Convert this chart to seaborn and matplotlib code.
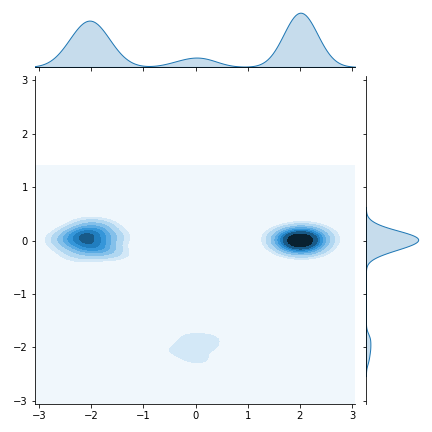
import numpy as np
import pandas as pd
import matplotlib
matplotlib.use("Agg")
import matplotlib.pyplot as plt
import seaborn as sns
from matplotlib.colors import to_rgb

# three blobs: left (-2, 0), right (2, 0), small one at (0, -2)
left_x = [-2.01, -1.80, -2.25, -1.95, -2.16, -1.75, -2.06, -2.36, -1.91, -2.10,
          -1.67, -2.21, -1.99, -2.31, -1.85, -2.03, -2.46, -1.93, -2.14, -1.78,
          -2.08, -1.56, -2.18, -1.97, -2.40, -1.87, -2.00, -2.28, -1.71, -2.12,
          -1.92, -2.53, -2.05, -1.83, -2.23, -1.52, -2.15, -1.98, -2.33, -1.88]
left_y = [0.03, -0.12, 0.18, -0.05, 0.09, -0.21, 0.14, -0.02, 0.25, -0.16,
          0.06, -0.08, 0.31, -0.27, 0.01, 0.11, -0.14, 0.22, -0.04, 0.16,
          -0.19, 0.07, -0.35, 0.12, -0.01, 0.28, -0.10, 0.05, -0.24, 0.19,
          -0.06, 0.02, 0.36, -0.13, 0.10, -0.30, 0.15, -0.03, 0.08, -0.17]

right_x = [2.01, 1.88, 2.12, 1.97, 2.06, 1.84, 2.19, 1.95, 2.03, 1.91,
           2.15, 1.99, 1.80, 2.09, 2.24, 1.93, 2.04, 1.86, 2.11, 2.00,
           1.96, 2.28, 1.89, 2.07, 1.73, 2.14, 1.98, 2.02, 2.20, 1.90,
           2.05, 1.82, 2.10, 1.94, 2.33, 2.00, 1.87, 2.08, 1.92, 2.17]
right_y = [-0.02, 0.10, -0.13, 0.04, -0.07, 0.17, 0.01, -0.20, 0.08, -0.04,
           0.13, -0.10, 0.02, 0.22, -0.15, 0.06, -0.01, 0.11, -0.26, 0.03,
           -0.08, 0.15, 0.00, -0.12, 0.07, -0.05, 0.19, -0.17, 0.05, -0.03,
           0.27, -0.09, 0.09, -0.22, 0.02, 0.12, -0.06, 0.14, -0.11, -0.01]

bottom_x = [-0.28, 0.07, 0.27, -0.11, 0.15, -0.38, -0.02, 0.20]
bottom_y = [-1.97, -2.27, -2.03, -1.79, -1.90, -2.09, -2.18, -1.83]

df = pd.DataFrame({
    "x": left_x + right_x + bottom_x,
    "y": left_y + right_y + bottom_y,
})

color = "C0"
# white -> color -> black ramp, like the old jointplot default
ramp = [sns.utils.set_hls_values(to_rgb(color), l=l) for l in np.linspace(1, 0, 12)]
cmap = sns.blend_palette(ramp, as_cmap=True)

g = sns.JointGrid(data=df, x="x", y="y", height=6, ratio=5, space=0.2)
sns.kdeplot(data=df, x="x", y="y", ax=g.ax_joint, fill=True, cmap=cmap,
            levels=10, thresh=0, bw_method=0.15, cut=11.5)
sns.kdeplot(data=df, x="x", ax=g.ax_marg_x, fill=True, color=color, bw_method=0.15)
sns.kdeplot(data=df, y="y", ax=g.ax_marg_y, fill=True, color=color, bw_method=0.15)

g.ax_joint.set_xlim(-3.08, 3.06)
g.ax_joint.set_ylim(-3.06, 3.08)
g.ax_joint.set_xlabel("")
g.ax_joint.set_ylabel("")

fig = g.figure
fig.set_size_inches(6, 6)
g.ax_joint.set_position([0.081, 0.065, 0.741, 0.759])
g.ax_marg_x.set_position([0.081, 0.845, 0.741, 0.132])
g.ax_marg_y.set_position([0.847, 0.065, 0.127, 0.759])

fig.savefig("out.png", dpi=72)
